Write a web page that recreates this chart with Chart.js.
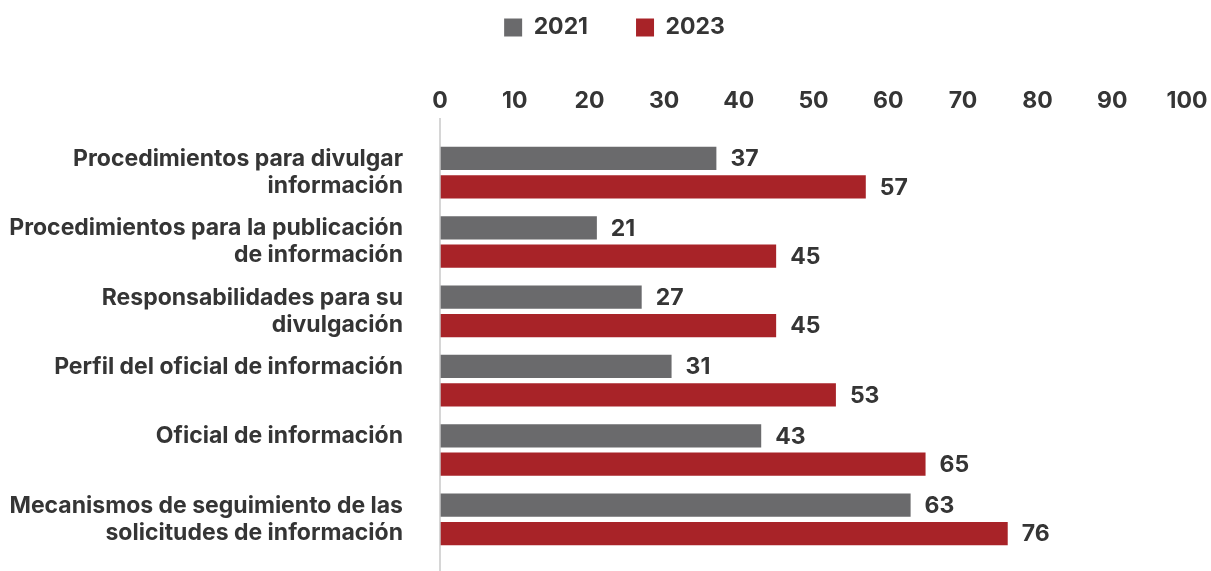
<!DOCTYPE html>
<html>
<head>
<meta charset="utf-8">
<script src="https://cdn.jsdelivr.net/npm/chart.js@4.4.1/dist/chart.umd.min.js"></script>
<style>
  html, body { margin: 0; padding: 0; background: #ffffff; }
  #wrap { width: 1211px; height: 571px; position: relative; }
</style>
</head>
<body>
<div id="wrap"><canvas id="c" width="1211" height="571"></canvas></div>
<script>
const categories = [
  ['Procedimientos para divulgar', 'información'],
  ['Procedimientos para la publicación', 'de información'],
  ['Responsabilidades para su', 'divulgación'],
  ['Perfil del oficial de información', ''],
  ['Oficial de información', ''],
  ['Mecanismos de seguimiento de las', 'solicitudes de información']
];
const seriesNames = ['2021', '2023'];
const values2021 = [37, 21, 27, 31, 43, 63];
const values2023 = [57, 45, 45, 53, 65, 76];
const xTicks = [0, 10, 20, 30, 40, 50, 60, 70, 80, 90, 100];

const GRAY = '#6a6a6c';
const RED = '#a82328';
const TEXT = '#353535';
const FONT = 'Inter, Lato, sans-serif';

const valueLabels = {
  id: 'valueLabels',
  afterDatasetsDraw(chart) {
    const ctx = chart.ctx;
    ctx.save();
    ctx.font = 'bold 23px ' + FONT;
    ctx.fillStyle = TEXT;
    ctx.textAlign = 'left';
    ctx.textBaseline = 'middle';
    chart.data.datasets.forEach((ds, di) => {
      const meta = chart.getDatasetMeta(di);
      meta.data.forEach((el, i) => {
        ctx.fillText(String(ds.data[i]), el.x + 14, el.y + 1);
      });
    });
    ctx.restore();
  }
};

const axisLine = {
  id: 'axisLine',
  afterDatasetsDraw(chart) {
    const ctx = chart.ctx;
    const x = chart.scales.x.getPixelForValue(0);
    ctx.save();
    ctx.strokeStyle = '#c8c8c8';
    ctx.lineWidth = 1.5;
    ctx.beginPath();
    ctx.moveTo(x, chart.chartArea.top - 20);
    ctx.lineTo(x, chart.height);
    ctx.stroke();
    ctx.restore();
  }
};

new Chart(document.getElementById('c'), {
  type: 'bar',
  data: {
    labels: categories,
    datasets: [
      { label: seriesNames[0], data: values2021, backgroundColor: GRAY, categoryPercentage: 0.82, barPercentage: 0.82 },
      { label: seriesNames[1], data: values2023, backgroundColor: RED, categoryPercentage: 0.82, barPercentage: 0.82 }
    ]
  },
  options: {
    indexAxis: 'y',
    responsive: false,
    animation: false,
    layout: { padding: { top: -32, right: -10, left: 8, bottom: 17 } },
    plugins: {
      legend: {
        position: 'top',
        align: 'center',
        labels: {
          boxWidth: 18,
          boxHeight: 18,
          padding: 48,
          color: TEXT,
          font: { family: FONT, size: 23, weight: 'bold' }
        }
      },
      tooltip: { enabled: false }
    },
    scales: {
      x: {
        position: 'top',
        min: 0,
        max: 100,
        afterBuildTicks(scale) { scale.ticks = xTicks.map(v => ({ value: v })); },
        afterFit(scale) { scale.height = 89; scale.paddingLeft = 0; scale.paddingRight = 24; },
        grid: { display: false, drawTicks: false },
        border: { display: false },
        ticks: {
          padding: 23,
          color: TEXT,
          font: { family: FONT, size: 23, weight: 'bold' }
        }
      },
      y: {
        afterFit(scale) { scale.width = 432; scale.paddingTop = 0; scale.paddingBottom = 0; },
        grid: { display: false, drawTicks: false },
        border: { display: false },
        ticks: {
          padding: 37,
          color: TEXT,
          font: { family: FONT, size: 23, weight: 'bold', lineHeight: 1.174 }
        }
      }
    }
  },
  plugins: [valueLabels, axisLine]
});
</script>
</body>
</html>
